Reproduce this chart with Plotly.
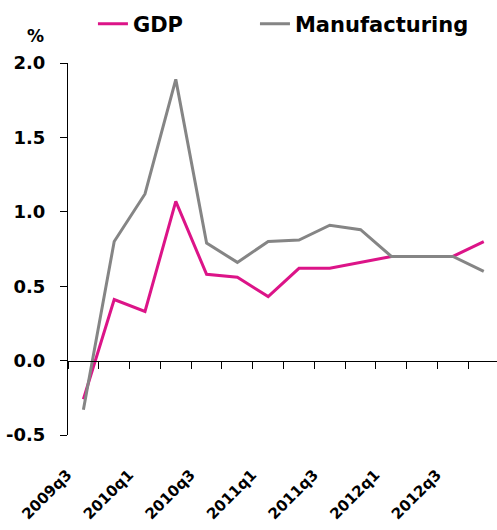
import plotly.graph_objects as go

# Quarterly growth, % change on previous quarter
quarters = ["2009q3", "2009q4", "2010q1", "2010q2", "2010q3", "2010q4",
            "2011q1", "2011q2", "2011q3", "2011q4", "2012q1", "2012q2",
            "2012q3", "2012q4"]
gdp = [-0.26, 0.41, 0.33, 1.07, 0.58, 0.56, 0.43, 0.62, 0.62, 0.66,
       0.70, 0.70, 0.70, 0.80]
manufacturing = [-0.33, 0.80, 1.12, 1.89, 0.79, 0.66, 0.80, 0.81, 0.91,
                 0.88, 0.70, 0.70, 0.70, 0.60]
label_quarters = quarters[::2]
y_ticks = [-0.5, 0.0, 0.5, 1.0, 1.5, 2.0]
y_tick_text = ["-0.5", "0.0", "0.5", "1.0", "1.5", "2.0"]

FONT = "DejaVu Sans"
PINK = "#DC1488"
GREY = "#858585"

fig = go.Figure()
fig.add_trace(go.Scatter(x=quarters, y=gdp, name="GDP", mode="lines",
                         line=dict(color=PINK, width=3), legend="legend",
                         xaxis="x", yaxis="y"))
fig.add_trace(go.Scatter(x=quarters, y=manufacturing, name="Manufacturing",
                         mode="lines", line=dict(color=GREY, width=3),
                         legend="legend2", xaxis="x2", yaxis="y"))

x_range = [-0.5, 13.43]
y_range = [-0.5, 2.0]
zero_pos = (0 - y_range[0]) / (y_range[1] - y_range[0])

legend_font = dict(family=FONT, size=21, color="black", weight="bold")

fig.update_layout(
    width=497, height=530,
    margin=dict(l=68, r=0, t=63, b=95, autoexpand=False),
    plot_bgcolor="white", paper_bgcolor="white",
    font=dict(family=FONT, color="black"),
    showlegend=True,
    legend=dict(orientation="h", xref="container", yref="container",
                x=0.187, y=0.993, xanchor="left", yanchor="top",
                font=legend_font, bgcolor="rgba(0,0,0,0)"),
    legend2=dict(orientation="h", xref="container", yref="container",
                 x=0.513, y=0.993, xanchor="left", yanchor="top",
                 font=legend_font, bgcolor="rgba(0,0,0,0)"),
    # category axis drawn along the zero line, ticks between quarters
    xaxis=dict(type="category", categoryorder="array", categoryarray=quarters,
               range=x_range, anchor="free", position=zero_pos,
               showline=True, linecolor="black", linewidth=1,
               ticks="outside", ticklen=7, tickcolor="black", tickwidth=1,
               tickson="boundaries", dtick=1, showticklabels=False,
               showgrid=False, zeroline=False, automargin=False),
    # quarter labels below the plot
    xaxis2=dict(type="category", categoryorder="array", categoryarray=quarters,
                range=x_range, overlaying="x", anchor="y", side="bottom",
                showline=False, ticks="", showgrid=False, zeroline=False,
                tickmode="array", tickvals=label_quarters, ticktext=label_quarters,
                tickangle=-45, ticklabelstandoff=27, ticklabelshift=-16,
                automargin=False,
                tickfont=dict(family=FONT, size=15, color="black", weight="bold")),
    yaxis=dict(range=y_range, tickmode="array", tickvals=y_ticks,
               ticktext=y_tick_text, showline=True, linecolor="black", linewidth=1,
               ticks="outside", ticklen=7, tickcolor="black", tickwidth=1,
               ticklabelstandoff=11, showgrid=False, zeroline=False,
               automargin=False,
               tickfont=dict(family=FONT, size=18, color="black", weight="bold")),
    annotations=[dict(text="%", xref="paper", yref="paper",
                      x=(35.7 - 68) / 429, y=(435 - 36.3) / 372,
                      xanchor="center", yanchor="middle", showarrow=False,
                      font=dict(family=FONT, size=17, color="black", weight="bold"))],
)

fig.write_html("out.html")
